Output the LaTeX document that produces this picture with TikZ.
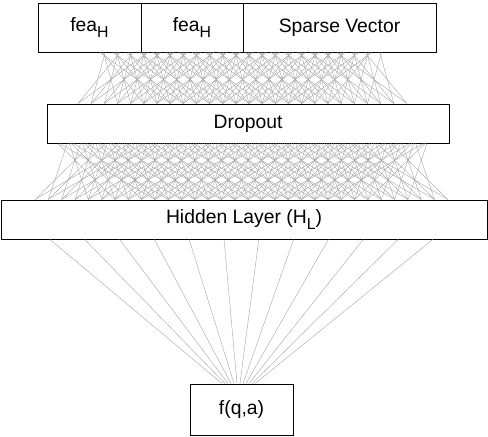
\documentclass[tikz,border=0pt]{standalone}
\usepackage{fontspec}
\setmainfont{Liberation Sans}
\usepackage{tikz}
\usetikzlibrary{positioning,calc}
\newcommand{\lowsub}[1]{\raisebox{-0.5ex}{\fontsize{13.5}{14}\selectfont #1}}

\begin{document}
\begin{tikzpicture}[x=0.03cm,y=-0.03cm,
  layer/.style={draw,line width=0.8pt,inner sep=0pt,font=\fontsize{16.5}{20}\selectfont},
  link/.style={gray!70,line width=0.35pt}]
\useasboundingbox (0,0) rectangle (488,436);
% ---- layers ----
\node[layer,minimum width=3.09cm,minimum height=1.47cm] (fea1) at (89.5,27.5) {fea\lowsub{H}};
\node[layer,minimum width=3.06cm,minimum height=1.47cm] (fea2) at (192,27.5) {fea\lowsub{H}};
\node[layer,minimum width=5.79cm,minimum height=1.47cm] (sparse) at (339.5,27.5) {Sparse Vector};
\node[layer,minimum width=12.06cm,minimum height=1.17cm] (drop) at (248,123.5) {Dropout};
\node[layer,minimum width=14.58cm,minimum height=1.17cm] (hid) at (244,219.5) {Hidden Layer (H\lowsub{L})};
\node[layer,minimum width=3.09cm,minimum height=1.53cm] (fq) at (241.5,409.5) {f(q,a)};
% ---- input -> dropout ----
\foreach \j in {0,...,25}{
  \foreach \k in {-5,-3,-1,1,3,5}{
    \pgfmathsetmacro{\xb}{78+13.16*\j}
    \pgfmathsetmacro{\xt}{\xb+14*\k}
    \pgfmathtruncatemacro{\ok}{(\xt>=96)&&(\xt<=382)}
    \ifnum\ok=1 \draw[link] (\xt,0 |- fea1.south) -- (\xb,0 |- drop.north); \fi
  }}
% ---- dropout -> hidden ----
\foreach \j in {0,...,31}{
  \foreach \k in {-5,-3,-1,1,3,5}{
    \pgfmathsetmacro{\xb}{35+13.32*\j}
    \pgfmathsetmacro{\xt}{\xb+19*\k}
    \pgfmathtruncatemacro{\ok}{(\xt>=56)&&(\xt<=427)}
    \ifnum\ok=1 \draw[link] (\xt,0 |- drop.south) -- (\xb,0 |- hid.north); \fi
  }}
% ---- hidden -> output ----
\foreach \j in {0,...,11}
  \draw[link] ({50+34.8*\j},0 |- hid.south) -- ({222+3*\j},0 |- fq.north);
\end{tikzpicture}
\end{document}
